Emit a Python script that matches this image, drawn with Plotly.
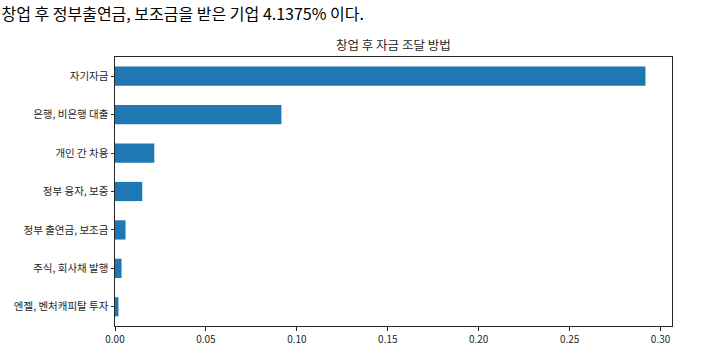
import plotly.graph_objects as go

categories = ["자기자금", "은행, 비은행 대출", "개인 간 차용", "정부 융자, 보증",
              "정부 출연금, 보조금", "주식, 회사채 발행", "엔젤, 벤처캐피탈 투자"]
values = [0.2917, 0.0915, 0.0216, 0.0150, 0.0058, 0.0036, 0.0019]
tick_vals = [0.0, 0.05, 0.10, 0.15, 0.20, 0.25, 0.30]
tick_text = ["0.00", "0.05", "0.10", "0.15", "0.20", "0.25", "0.30"]

suptitle = "창업 후 정부출연금, 보조금을 받은 기업 4.1375% 이다."
axtitle = "창업 후 자금 조달 방법"

FONT = "Noto Sans CJK KR"

fig = go.Figure(go.Bar(
    x=values, y=categories, orientation="h",
    marker=dict(color="#1f77b4", line=dict(width=0)),
    width=0.5,
))

fig.update_layout(
    width=709, height=358,
    margin=dict(l=114.5, r=36.7, t=56.7, b=29),
    paper_bgcolor="white", plot_bgcolor="white",
    font=dict(family=FONT, size=10, color="#262626"),
    showlegend=False,
    title=dict(text=suptitle, xref="container", yref="container",
               x=0.002, xanchor="left", y=1 - 14.5 / 358, yanchor="middle",
               font=dict(family=FONT, size=16, color="black")),
    annotations=[dict(text=axtitle, xref="paper", yref="paper",
                      x=0.5, y=1, xanchor="center", yanchor="bottom",
                      yshift=1, showarrow=False,
                      font=dict(family=FONT, size=12.5, color="#262626"))],
)

fig.update_xaxes(
    range=[0, max(values) * 1.05],
    tickvals=tick_vals, ticktext=tick_text,
    ticks="outside", ticklen=3.5, tickwidth=0.8, tickcolor="#262626",
    showline=True, linecolor="#262626", linewidth=1, mirror=True,
    showgrid=False, zeroline=False,
    tickfont=dict(family=FONT, size=10, color="#262626"),
)
fig.update_yaxes(
    categoryorder="array", categoryarray=categories,
    autorange=False, range=[len(categories) - 0.5, -0.5],
    ticks="outside", ticklen=3.5, tickwidth=0.8, tickcolor="#262626",
    showline=True, linecolor="#262626", linewidth=1, mirror=True,
    showgrid=False, zeroline=False,
    tickfont=dict(family=FONT, size=10.5, color="#262626"),
)

fig.write_html("out.html", config={"displayModeBar": False},
               post_script="document.body.style.margin='0';")
